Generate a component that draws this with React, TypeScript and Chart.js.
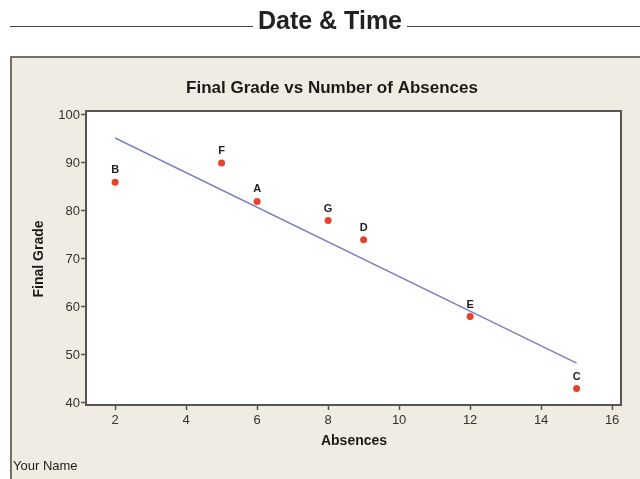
import React, { useEffect, useRef } from "react";
import { Chart, registerables } from "chart.js";

Chart.register(...registerables);

const pointLabels = ["B", "F", "A", "G", "D", "E", "C"];
const absences = [2, 5, 6, 8, 9, 12, 15];
const finalGrades = [86, 90, 82, 78, 74, 58, 43];
const fitX = [2, 15];
const fitY = [95.2, 48.3];
const xTicks = [2, 4, 6, 8, 10, 12, 14, 16];
const yTicks = [40, 50, 60, 70, 80, 90, 100];

const headerText = "Date & Time";
const chartTitle = "Final Grade vs Number of Absences";
const xTitle = "Absences";
const yTitle = "Final Grade";
const footerText = "Your Name";

const FONT = "'Liberation Sans', Arial, sans-serif";

export default function App() {
  const ref = useRef<HTMLCanvasElement | null>(null);

  useEffect(() => {
    const canvas = ref.current;
    if (!canvas) return;

    const decor = {
      id: "decor",
      beforeDraw(chart: any) {
        const ctx = chart.ctx;
        const W = chart.width;
        const H = chart.height;
        ctx.save();
        ctx.fillStyle = "#ffffff";
        ctx.fillRect(0, 0, W, H);
        // header
        ctx.font = `bold 25px ${FONT}`;
        ctx.fillStyle = "#222";
        ctx.textAlign = "center";
        ctx.textBaseline = "middle";
        ctx.fillText(headerText, 330, 22);
        const tw = ctx.measureText(headerText).width;
        ctx.strokeStyle = "#444";
        ctx.lineWidth = 1.2;
        ctx.beginPath();
        ctx.moveTo(10, 26.5);
        ctx.lineTo(330 - tw / 2 - 5, 26.5);
        ctx.moveTo(330 + tw / 2 + 5, 26.5);
        ctx.lineTo(W, 26.5);
        ctx.stroke();
        // panel
        ctx.fillStyle = "#f0ebe3";
        ctx.fillRect(11, 57, W - 11, H - 57);
        ctx.strokeStyle = "#756f6c";
        ctx.lineWidth = 2;
        ctx.beginPath();
        ctx.moveTo(11, H);
        ctx.lineTo(11, 57);
        ctx.lineTo(W, 57);
        ctx.stroke();
        // plot area
        const a = chart.chartArea;
        ctx.fillStyle = "#ffffff";
        ctx.fillRect(a.left, a.top, a.right - a.left, a.bottom - a.top);
        ctx.restore();
      },
      afterDraw(chart: any) {
        const ctx = chart.ctx;
        const a = chart.chartArea;
        ctx.save();
        ctx.strokeStyle = "#5a5555";
        ctx.lineWidth = 2;
        ctx.strokeRect(a.left, a.top, a.right - a.left, a.bottom - a.top);
        ctx.fillStyle = "#1a1a1a";
        ctx.textAlign = "center";
        ctx.textBaseline = "middle";
        ctx.font = `bold 17px ${FONT}`;
        ctx.fillText(chartTitle, 332, 88);
        ctx.font = `bold 14px ${FONT}`;
        ctx.fillText(xTitle, 354, 441);
        ctx.save();
        ctx.translate(39, 259);
        ctx.rotate(-Math.PI / 2);
        ctx.fillText(yTitle, 0, 0);
        ctx.restore();
        ctx.textAlign = "left";
        ctx.font = `13px ${FONT}`;
        ctx.fillStyle = "#222";
        ctx.fillText(footerText, 13, 466);
        ctx.restore();
      },
      afterDatasetsDraw(chart: any) {
        const ctx = chart.ctx;
        const meta = chart.getDatasetMeta(1);
        ctx.save();
        ctx.font = `bold 11px ${FONT}`;
        ctx.fillStyle = "#222";
        ctx.textAlign = "center";
        ctx.textBaseline = "middle";
        meta.data.forEach((el: any, i: number) => {
          ctx.fillText(pointLabels[i], el.x, el.y - 12);
        });
        ctx.restore();
      },
    };

    const chart = new Chart(canvas, {
      type: "scatter",
      data: {
        datasets: [
          {
            type: "line",
            data: fitX.map((x, i) => ({ x, y: fitY[i] })),
            borderColor: "#7f7fc4",
            borderWidth: 1.5,
            pointRadius: 0,
            fill: false,
          } as any,
          {
            type: "scatter",
            data: absences.map((x, i) => ({ x, y: finalGrades[i] })),
            backgroundColor: "#e4442a",
            borderWidth: 0,
            pointRadius: 3.5,
          },
        ],
      },
      options: {
        animation: false,
        responsive: false,
        devicePixelRatio: 1,
        layout: { padding: { left: 0, top: 111, right: 19, bottom: 0 } },
        plugins: {
          legend: { display: false },
          tooltip: { enabled: false },
          title: { display: false },
        },
        scales: {
          x: {
            type: "linear",
            min: 1.18,
            max: 16.25,
            afterBuildTicks(scale: any) {
              scale.ticks = xTicks.map((v) => ({ value: v }));
            },
            afterFit(scale: any) {
              scale.height = 74;
            },
            grid: {
              drawOnChartArea: false,
              drawTicks: true,
              tickLength: 5,
              tickWidth: 1.5,
              color: "#555",
            },
            border: { display: true, color: "#5a5555", width: 2 },
            ticks: {
              font: { family: FONT, size: 13 },
              color: "#333",
              padding: 3,
              maxRotation: 0,
            },
          },
          y: {
            type: "linear",
            min: 39.58,
            max: 100.83,
            afterBuildTicks(scale: any) {
              scale.ticks = yTicks.map((v) => ({ value: v }));
            },
            afterFit(scale: any) {
              scale.width = 86;
            },
            grid: {
              drawOnChartArea: false,
              drawTicks: true,
              tickLength: 5,
              tickWidth: 1.5,
              color: "#555",
            },
            border: { display: true, color: "#5a5555", width: 2 },
            ticks: {
              font: { family: FONT, size: 13 },
              color: "#333",
              padding: 1,
            },
          },
        },
      },
      plugins: [decor],
    });

    return () => chart.destroy();
  }, []);

  return (
    <div style={{ position: "absolute", left: 0, top: 0, width: 640, height: 479 }}>
      <canvas ref={ref} width={640} height={479} style={{ display: "block", width: 640, height: 479 }} />
    </div>
  );
}
